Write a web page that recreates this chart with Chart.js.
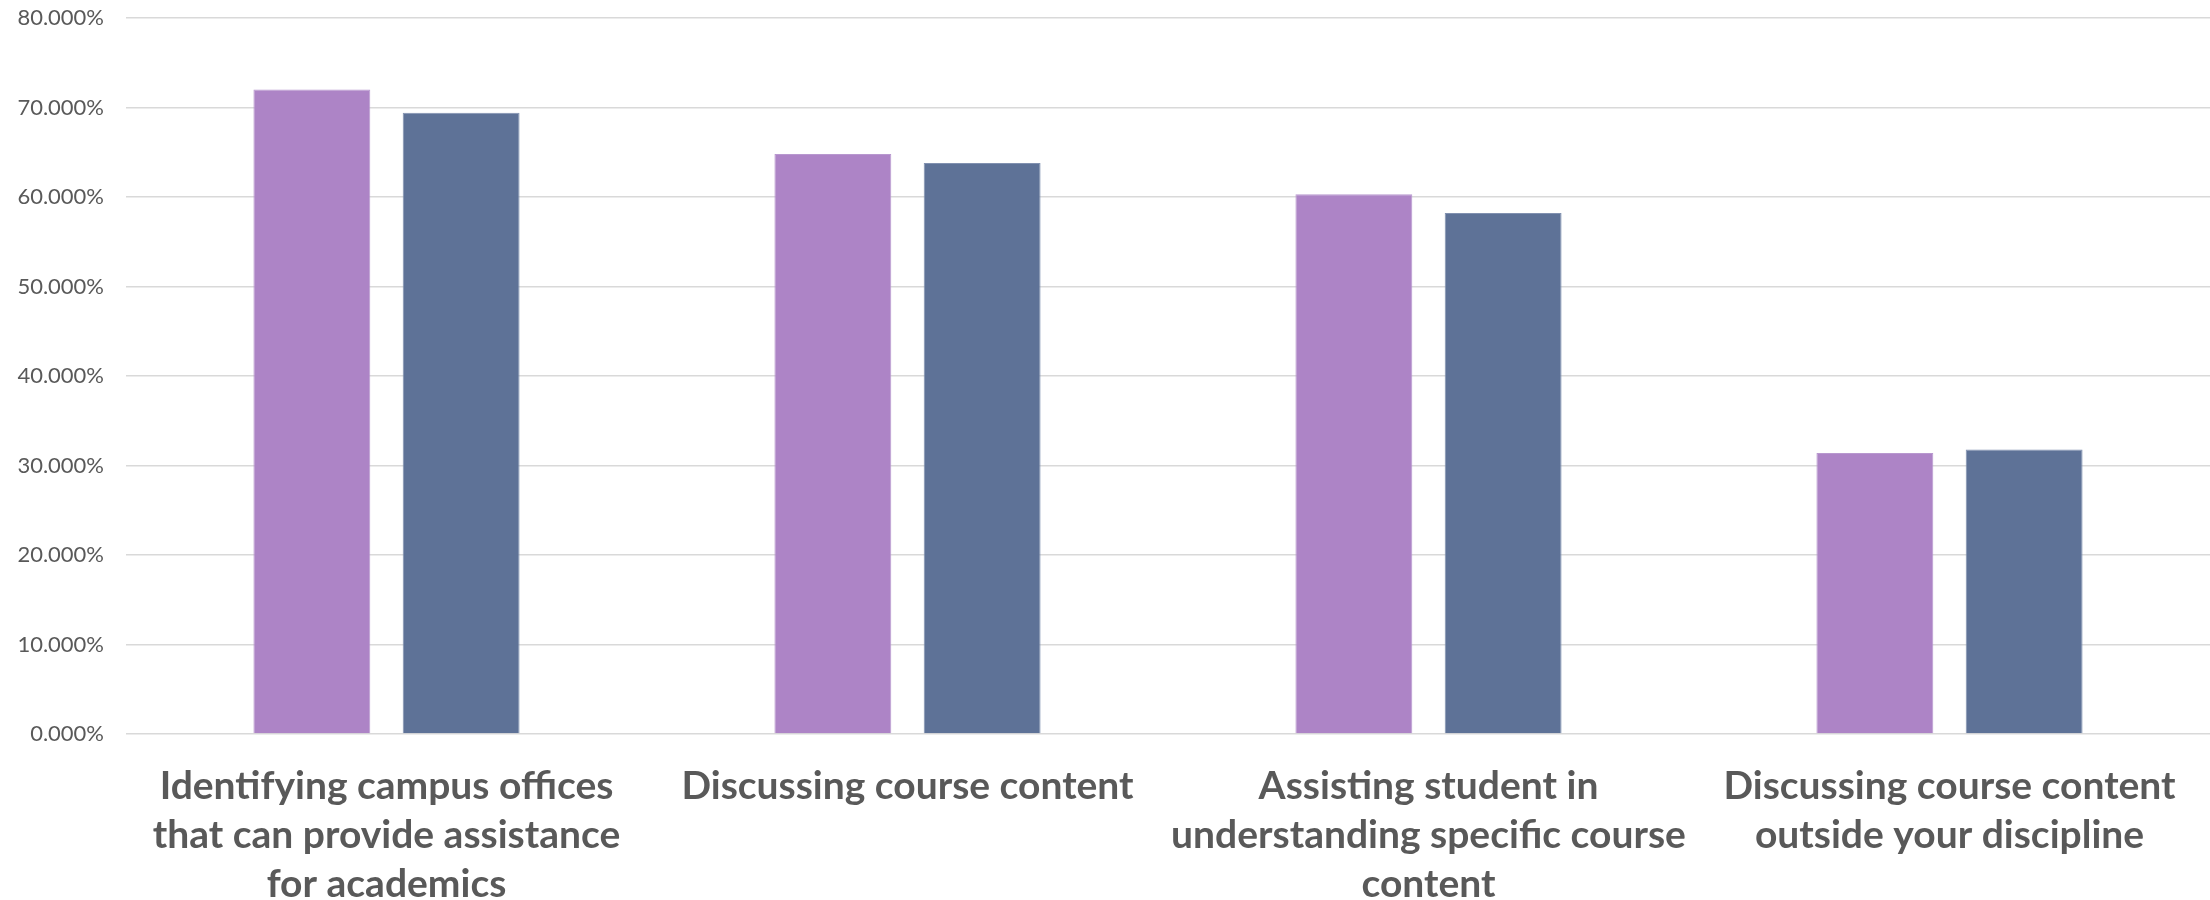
<!DOCTYPE html>
<html lang="en">
<head>
  <meta charset="UTF-8">
  <title>Faculty activities</title>
  <script src="https://cdn.jsdelivr.net/npm/chart.js"></script>
  <style>
    html, body { margin: 0; padding: 0; background: #fff; }
    #wrap { width: 2210px; height: 900px; }
  </style>
</head>
<body>
  <div id="wrap">
    <canvas id="barChart" width="2210" height="900"></canvas>
  </div>

  <script>
    // categories (one array of lines per label)
    const categories = [
      ['Identifying campus offices', 'that can provide assistance', 'for academics'],
      ['Discussing course content'],
      ['Assisting student in', 'understanding specific course', 'content'],
      ['Discussing course content', 'outside your discipline']
    ];

    // values in percent
    const seriesA = [72.0, 64.8, 60.3, 31.4];
    const seriesB = [69.4, 63.8, 58.2, 31.8];

    const yMax = 80;
    const yStep = 10;

    const ctx = document.getElementById('barChart').getContext('2d');

    new Chart(ctx, {
      type: 'bar',
      data: {
        labels: categories,
        datasets: [{
          label: 'Series 1',
          data: seriesA,
          backgroundColor: '#ad84c6',
          borderColor: '#b898cf',
          borderWidth: 1,
          categoryPercentage: 0.573,
          barPercentage: 0.783
        }, {
          label: 'Series 2',
          data: seriesB,
          backgroundColor: '#5e7297',
          borderColor: '#8191b0',
          borderWidth: 1,
          categoryPercentage: 0.573,
          barPercentage: 0.783
        }]
      },
      options: {
        responsive: false,
        animation: false,
        layout: { padding: 0 },
        plugins: {
          legend: { display: false },
          tooltip: { enabled: false }
        },
        scales: {
          x: {
            grid: { display: false },
            border: { display: false },
            ticks: {
              color: '#595959',
              autoSkip: false,
              maxRotation: 0,
              padding: 20,
              font: { family: 'Lato', weight: 'bold', size: 39, lineHeight: 1.26 }
            },
            afterFit: (scale) => {
              scale.height = 166;
              scale.paddingRight = 0;
            }
          },
          y: {
            min: 0,
            max: yMax,
            grid: { color: '#d9d9d9', lineWidth: 1.5, drawTicks: false },
            border: { display: false },
            ticks: {
              stepSize: yStep,
              color: '#595959',
              padding: 22,
              font: { family: 'Lato', size: 22 },
              callback: (v) => v.toFixed(3) + '%'
            },
            afterFit: (scale) => {
              scale.width = 126;
              scale.paddingTop = 18;
            }
          }
        }
      }
    });
  </script>
</body>
</html>
